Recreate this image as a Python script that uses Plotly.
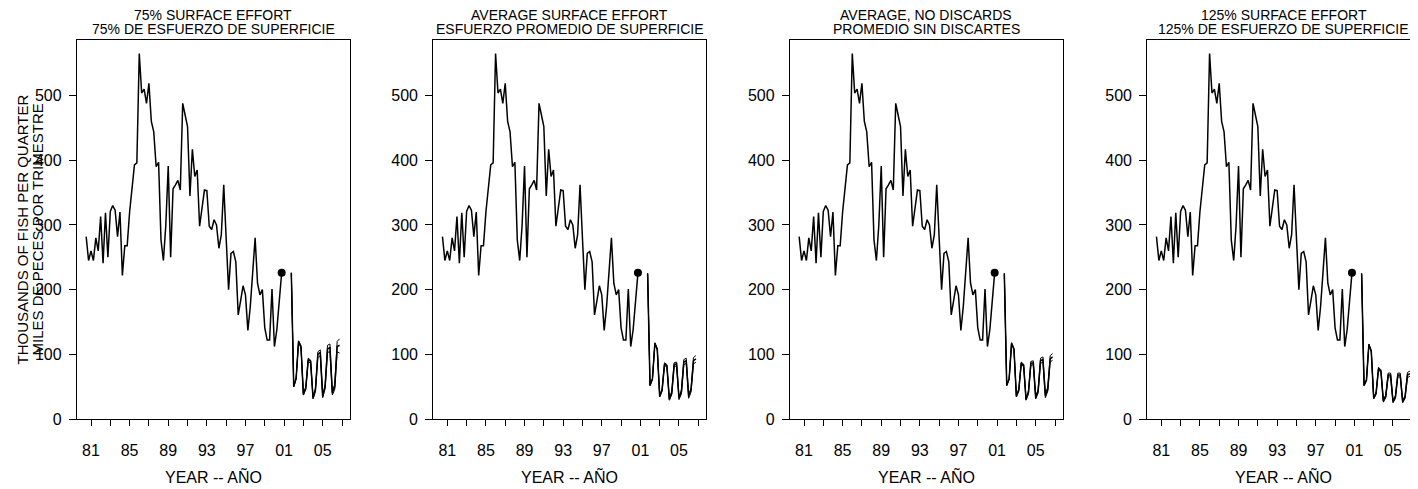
import plotly.graph_objects as go

# ---- data ----
hist_start = 1980.5          # first quarter plotted
hist = [282, 245, 260, 245, 280, 260, 313, 241, 319, 250, 321, 330, 323, 282, 320, 222,
        268, 268, 320, 358, 393, 396, 565, 504, 510, 488, 519, 460, 444, 390, 397, 277,
        245, 300, 391, 250, 356, 362, 369, 354, 488, 470, 452, 345, 417, 375, 385, 298,
        325, 354, 353, 298, 293, 308, 300, 264, 285, 362, 280, 200, 256, 259, 243, 161,
        183, 206, 192, 137, 174, 227, 280, 210, 192, 200, 141, 122, 122, 201, 112, 138,
        182, 226]
proj_start = 2001.75

title_en = ["75% SURFACE EFFORT", "AVERAGE SURFACE EFFORT",
            "AVERAGE, NO DISCARDS", "125% SURFACE EFFORT"]
title_es = ["75% DE ESFUERZO DE SUPERFICIE", "ESFUERZO PROMEDIO DE SUPERFICIE",
            "PROMEDIO SIN DISCARTES", "125% DE ESFUERZO DE SUPERFICIE"]

proj_mid = [
    [226, 50, 63, 120, 112, 38, 48, 92, 89, 32, 45, 100, 103, 35, 50, 108, 111, 40, 50, 112, 114],
    [225, 52, 62, 117, 108, 35, 45, 85, 82, 30, 40, 84, 85, 32, 42, 88, 90, 35, 45, 90, 93],
    [225, 52, 62, 117, 108, 35, 45, 86, 83, 30, 41, 86, 87, 33, 43, 90, 92, 36, 46, 93, 96],
    [225, 52, 60, 115, 105, 32, 40, 78, 74, 28, 35, 68, 68, 27, 34, 68, 68, 27, 34, 68, 70],
]
proj_up = [
    [226, 50, 64, 121, 113, 39, 50, 94, 91, 34, 48, 104, 107, 37, 53, 114, 116, 43, 54, 120, 124],
    [225, 52, 63, 118, 109, 36, 47, 87, 84, 32, 43, 87, 88, 34, 45, 92, 94, 38, 48, 95, 98],
    [225, 52, 63, 118, 109, 36, 47, 88, 85, 32, 44, 89, 90, 35, 46, 94, 96, 39, 49, 98, 101],
    [225, 52, 61, 116, 106, 33, 42, 80, 76, 30, 37, 71, 71, 29, 36, 71, 71, 29, 36, 72, 74],
]
proj_lo = [
    [226, 50, 62, 118, 110, 37, 46, 89, 86, 31, 43, 95, 98, 33, 47, 103, 104, 37, 46, 104, 102],
    [225, 52, 61, 116, 107, 34, 43, 83, 80, 29, 38, 81, 82, 30, 39, 84, 86, 32, 42, 85, 88],
    [225, 52, 61, 116, 107, 34, 43, 84, 81, 29, 39, 83, 84, 31, 40, 86, 88, 33, 43, 88, 91],
    [225, 52, 59, 114, 104, 31, 38, 76, 72, 26, 33, 65, 65, 25, 32, 65, 65, 25, 32, 64, 66],
]

tick_years = list(range(1981, 2008, 2))
tick_text = [("%02d" % (y % 100)) if (y - 1981) % 4 == 0 else "" for y in tick_years]
y_ticks = [0, 100, 200, 300, 400, 500]

# ---- layout geometry (page body has an 8px margin, so work in shifted coords) ----
OFF = 8
W, H = 1418 - OFF, 489 - OFF
plot_top = 40 - OFF
plot_bot = 419.3 - OFF
left_px = [77 - OFF, 433.3 - OFF, 790 - OFF, 1147.3 - OFF]
panel_w = 272.7
px_per_year = 9.654
x0 = 1979.55
y_max = 586
FONT = "Liberation Sans, Arial, sans-serif"

fig = go.Figure()
hx = [hist_start + i * 0.25 for i in range(len(hist))]
px_ = [proj_start + i * 0.25 for i in range(len(proj_mid[0]))]

for k in range(4):
    xa = "x" if k == 0 else "x%d" % (k + 1)
    ya = "y" if k == 0 else "y%d" % (k + 1)
    fig.add_trace(go.Scatter(x=hx, y=hist, mode="lines", line=dict(color="black", width=1.5),
                             xaxis=xa, yaxis=ya, showlegend=False, hoverinfo="skip"))
    fig.add_trace(go.Scatter(x=[hx[-1]], y=[hist[-1]], mode="markers",
                             marker=dict(color="black", size=8),
                             xaxis=xa, yaxis=ya, showlegend=False, hoverinfo="skip"))
    for series, w in ((proj_up[k], 1.0), (proj_lo[k], 1.0), (proj_mid[k], 1.5)):
        fig.add_trace(go.Scatter(x=px_, y=series, mode="lines", line=dict(color="black", width=w),
                                 xaxis=xa, yaxis=ya, showlegend=False, hoverinfo="skip"))

    l = left_px[k]
    r = min(l + panel_w, W)
    x1 = x0 + (r - l) / px_per_year
    axis_common = dict(showline=True, linecolor="black", linewidth=1.3, showgrid=False,
                       zeroline=False, ticks="outside", tickcolor="black", tickwidth=1.3,
                       tickfont=dict(family=FONT, size=16, color="black"))
    fig.layout[("xaxis" if k == 0 else "xaxis%d" % (k + 1))] = dict(
        domain=[l / W, r / W], range=[x0, x1], anchor=ya,
        tickvals=tick_years, ticktext=tick_text, ticklen=6, mirror=True,
        ticklabelstandoff=11, **axis_common)
    fig.layout[("yaxis" if k == 0 else "yaxis%d" % (k + 1))] = dict(
        domain=[0, 1], range=[0, y_max], anchor=xa, tickvals=y_ticks, ticklen=7,
        mirror=(k != 3), ticklabelstandoff=4, **axis_common)

    cx = (l + panel_w / 2) / W
    fig.add_annotation(text=title_en[k], x=cx, y=1, xref="paper", yref="paper",
                       xanchor="center", yanchor="middle", yshift=40 - 15, showarrow=False,
                       font=dict(family=FONT, size=14, color="black"))
    fig.add_annotation(text=title_es[k], x=cx, y=1, xref="paper", yref="paper",
                       xanchor="center", yanchor="middle", yshift=40 - 29, showarrow=False,
                       font=dict(family=FONT, size=14, color="black"))
    fig.add_annotation(text="YEAR -- AÑO", x=cx, y=0, xref="paper", yref="paper",
                       xanchor="center", yanchor="middle", yshift=-(477 - 419.3), showarrow=False,
                       font=dict(family=FONT, size=16, color="black"))

for txt, xc in (("THOUSANDS OF FISH PER QUARTER", 22), ("MILES DE PECES POR TRIMESTRE", 37)):
    fig.add_annotation(text=txt, x=(xc - OFF) / W, y=0.5, xref="paper", yref="paper",
                       xanchor="center", yanchor="middle", textangle=-90, showarrow=False,
                       font=dict(family=FONT, size=15, color="black"))

fig.update_layout(width=W, height=H, margin=dict(l=0, r=0, t=plot_top, b=H - plot_bot),
                  plot_bgcolor="white", paper_bgcolor="white")
fig.write_html("out.html")
